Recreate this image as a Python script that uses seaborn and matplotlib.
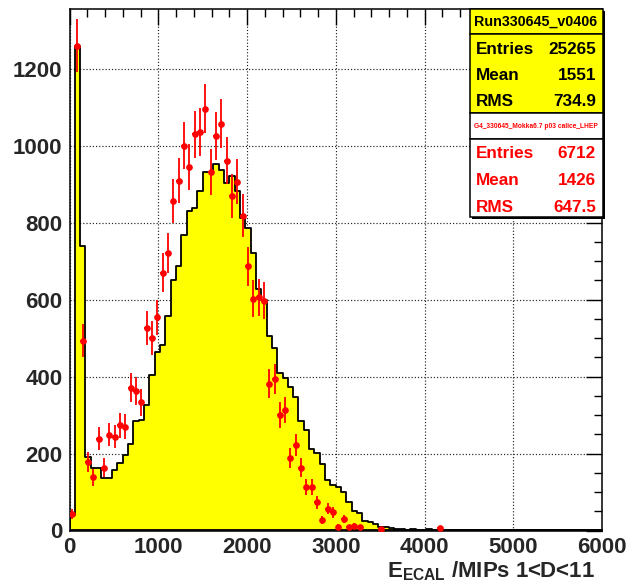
import numpy as np
import pandas as pd
import matplotlib
matplotlib.use("Agg")
import matplotlib.pyplot as plt
import seaborn as sns
from matplotlib.patches import Rectangle
from matplotlib.ticker import MultipleLocator

# ---------------- data ----------------
bin_width = 60
n_bins = 100

# yellow histogram (data run) bin contents, 60-MIP bins from 0 to 6000
data_counts = [
    40, 1260, 738, 190, 162, 162, 137, 137, 158, 175,
    195, 224, 285, 287, 326, 403, 465, 481, 558, 650,
    686, 767, 831, 838, 882, 931, 931, 951, 936, 903,
    922, 882, 812, 786, 721, 627, 598, 506, 474, 410,
    397, 372, 348, 284, 262, 212, 201, 172, 131, 118,
    112, 100, 75, 50, 45, 24, 23, 17, 8, 10,
    7, 4, 3, 2, 3, 2, 1, 3, 2, 1,
    1, 0, 1, 0, 0, 1, 0, 0, 0, 0,
    0, 0, 0, 0, 0, 0, 0, 0, 1, 0,
    0, 0, 0, 0, 0, 0, 0, 0, 0, 0,
]

# red points (simulation, scaled) bin contents
mc_counts = [
    42, 1260, 493, 179, 138, 239, 163, 249, 244, 273,
    270, 371, 363, 333, 526, 500, 554, 670, 722, 857,
    909, 1000, 944, 1029, 1035, 1096, 931, 1025, 1057, 961,
    870, 906, 818, 686, 602, 606, 597, 381, 394, 300,
    313, 188, 223, 163, 112, 112, 73, 28, 57, 47,
    10, 29, 9, 12, 9, 0, 0, 0, 5, 0,
    0, 0, 0, 0, 0, 0, 0, 0, 0, 6,
    0, 0, 0, 0, 0, 0, 0, 0, 0, 0,
    0, 0, 0, 0, 0, 0, 0, 0, 0, 0,
    0, 0, 0, 0, 0, 0, 0, 0, 0, 0,
]

data_title = "Run330645_v0406"
data_stats = [("Entries", "25265"), ("Mean", "1551"), ("RMS", "734.9")]
mc_title = "G4_330645_Mokka6.7 p03 calice_LHEP"
mc_stats = [("Entries", "6712"), ("Mean", "1426"), ("RMS", "647.5")]
data_entries = 25265
mc_entries = 6712

x_ticks = [0, 1000, 2000, 3000, 4000, 5000, 6000]
y_ticks = [0, 200, 400, 600, 800, 1000, 1200]

# ---------------- style ----------------
sns.set_theme(style="white")
plt.rcParams["font.family"] = ["Liberation Sans", "DejaVu Sans"]
plt.rcParams["mathtext.fontset"] = "custom"
plt.rcParams["mathtext.bf"] = "Liberation Sans:bold"
plt.rcParams["mathtext.rm"] = "Liberation Sans:bold"

W, H = 632, 586
fig = plt.figure(figsize=(W / 100, H / 100), dpi=100)
fig.patch.set_facecolor("white")

L, R, T, B = 69.5, 602.0, 9.0, 530.5
ax = fig.add_axes([L / W, 1 - B / H, (R - L) / W, (B - T) / H])
ax.set_facecolor("white")

edges = np.arange(n_bins + 1) * bin_width
centers = edges[:-1] + bin_width / 2
df = pd.DataFrame({"E": centers, "data": data_counts, "mc": mc_counts})

# grid under everything
ax.set_axisbelow(True)
ax.grid(True, which="major", linestyle=(0, (1, 1.7)), color="#222222", linewidth=0.85)

sns.histplot(data=df, x="E", weights="data", binwidth=bin_width,
             binrange=(0, n_bins * bin_width), element="step",
             fill=True, color="#ffff00", alpha=1, edgecolor="black",
             linewidth=1.3, ax=ax, zorder=1)

m = df["mc"] > 0
scale = data_entries / mc_entries
yerr = np.sqrt(df.loc[m, "mc"] * scale)
ax.errorbar(df.loc[m, "E"], df.loc[m, "mc"], xerr=bin_width / 2, yerr=yerr,
            fmt="o", color="#ff0000", ms=3.8, elinewidth=1.3, capsize=0,
            zorder=4)

ax.set_xlim(0, 6000)
ax.set_ylim(0, 1355)
ax.set_xticks(x_ticks)
ax.set_yticks(y_ticks)
ax.xaxis.set_minor_locator(MultipleLocator(200))
ax.yaxis.set_minor_locator(MultipleLocator(50))
ax.tick_params(which="both", direction="in", top=True, right=True,
               width=1.0, color="black")
ax.tick_params(which="major", length=11.5, pad=5, labelsize=16)
ax.tick_params(which="minor", length=5.8)
for lab in ax.get_xticklabels() + ax.get_yticklabels():
    lab.set_fontweight("bold")
ax.set_xlabel("")
ax.set_ylabel("")
for s in ax.spines.values():
    s.set_visible(True)
    s.set_color("black")
    s.set_linewidth(1.1)

# axis title
fig.text(595 / W, 1 - 577 / H, r"$\mathbf{E}_{\mathbf{ECAL}}$ /MIPs 1<D<11",
         ha="right", va="baseline", fontsize=16, fontweight="bold")

# ---------------- stat boxes ----------------
def fx(x):
    return x / W


def fy(y):
    return 1 - y / H


bx0, bx1 = 470.0, 602.5
# shadow
fig.add_artist(Rectangle((fx(bx0 + 2), fy(217 + 2)), (bx1 - bx0) / W, (217 - 9) / H,
                         transform=fig.transFigure, facecolor="black",
                         edgecolor="none", zorder=5))
boxes = [(9, 34, "#ffff00"), (34, 113, "#ffff00"), (113, 139, "white"), (139, 217, "white")]
for y0, y1, fc in boxes:
    fig.add_artist(Rectangle((fx(bx0), fy(y1)), (bx1 - bx0) / W, (y1 - y0) / H,
                             transform=fig.transFigure, facecolor=fc,
                             edgecolor="black", linewidth=1.1, zorder=6))

fig.text(fx(536), fy(21.5), data_title, ha="center", va="center",
         fontsize=10.3, fontweight="bold", color="black", zorder=7)
for i, (k, v) in enumerate(data_stats):
    yy = 50 + 25.7 * i
    fig.text(fx(476), fy(yy), k, ha="left", va="center", fontsize=12.3,
             fontweight="bold", color="black", zorder=7)
    fig.text(fx(596), fy(yy), v, ha="right", va="center", fontsize=12.3,
             fontweight="bold", color="black", zorder=7)

fig.text(fx(536), fy(126), mc_title, ha="center", va="center",
         fontsize=4.8, fontweight="bold", color="#ff0000", zorder=7)
for i, (k, v) in enumerate(mc_stats):
    yy = 154 + 26.5 * i
    fig.text(fx(476), fy(yy), k, ha="left", va="center", fontsize=12.3,
             fontweight="bold", color="#ff0000", zorder=7)
    fig.text(fx(596), fy(yy), v, ha="right", va="center", fontsize=12.3,
             fontweight="bold", color="#ff0000", zorder=7)

fig.savefig("out.png", dpi=100, facecolor="white")
